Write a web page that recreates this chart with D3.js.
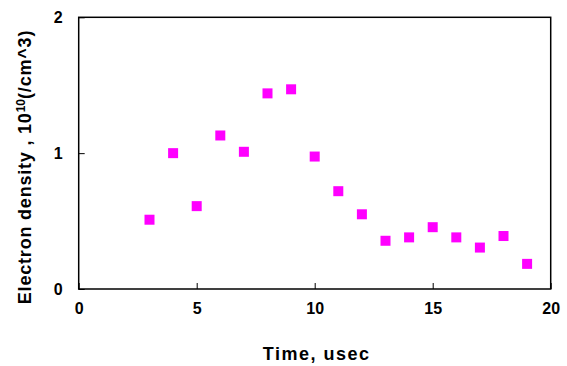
<!DOCTYPE html>
<html><head><meta charset="utf-8">
<script src="https://cdn.jsdelivr.net/npm/d3@7"></script>
<style>
body{margin:0;background:#fff;}
text{font-family:"Liberation Sans",Arial,sans-serif;font-weight:bold;fill:#000;}
</style></head>
<body><svg id="c" width="567" height="366"></svg>
<script>
const times = [3,4,5,6,7,8,9,10,11,12,13,14,15,16,17,18,19];
const density = [0.51,1.00,0.61,1.13,1.01,1.44,1.47,0.975,0.72,0.55,0.355,0.38,0.455,0.38,0.305,0.39,0.185];
const xTicks = [0,5,10,15,20];
const yTicks = [0,1,2];

const svg = d3.select("#c");
const L=78.7, R=550.7, T=17.3, B=289;
const x = d3.scaleLinear().domain([0,20]).range([L,R]);
const y = d3.scaleLinear().domain([0,2]).range([B,T]);

// frame
svg.append("rect").attr("x",L).attr("y",T).attr("width",R-L).attr("height",B-T)
  .attr("fill","none").attr("stroke","#000").attr("stroke-width",1.5);

const xa = svg.append("g").attr("transform",`translate(0,${B})`)
  .call(d3.axisBottom(x).tickValues(xTicks).tickFormat(d3.format("d")).tickSizeInner(-6).tickSizeOuter(0).tickPadding(14));
xa.select(".domain").remove();
xa.selectAll("line").attr("stroke","#000").attr("stroke-width",1);
xa.selectAll("text").attr("font-size",16).attr("font-family","Liberation Sans, Arial").attr("font-weight","bold").attr("fill","#000");

const ya = svg.append("g").attr("transform",`translate(${L},0)`)
  .call(d3.axisLeft(y).tickValues(yTicks).tickFormat(d3.format("d")).tickSizeInner(-6).tickSizeOuter(0).tickPadding(16));
ya.select(".domain").remove();
ya.selectAll("line").attr("stroke","#000").attr("stroke-width",1);
ya.selectAll("text").attr("font-size",16).attr("font-family","Liberation Sans, Arial").attr("font-weight","bold").attr("fill","#000");

// points
const s=10;
svg.append("g").selectAll("rect").data(times).join("rect")
  .attr("x",(d)=>x(d)-s/2).attr("y",(d,i)=>y(density[i])-s/2)
  .attr("width",s).attr("height",s).attr("fill","#ff00ff");

// titles
svg.append("text").attr("x",(L+R)/2+2).attr("y",360).attr("text-anchor","middle")
  .attr("font-size",18).attr("letter-spacing",1.5).text("Time, usec");

const yt = svg.append("text").attr("transform","translate(31,167) rotate(-90)")
  .attr("text-anchor","middle").attr("font-size",18).attr("letter-spacing",0.8);
yt.append("tspan").text("Electron density , 10");
yt.append("tspan").attr("dy",-6).attr("font-size",12).attr("letter-spacing",0).text("10");
yt.append("tspan").attr("dy",6).text("(/cm^3)");
</script></body></html>
